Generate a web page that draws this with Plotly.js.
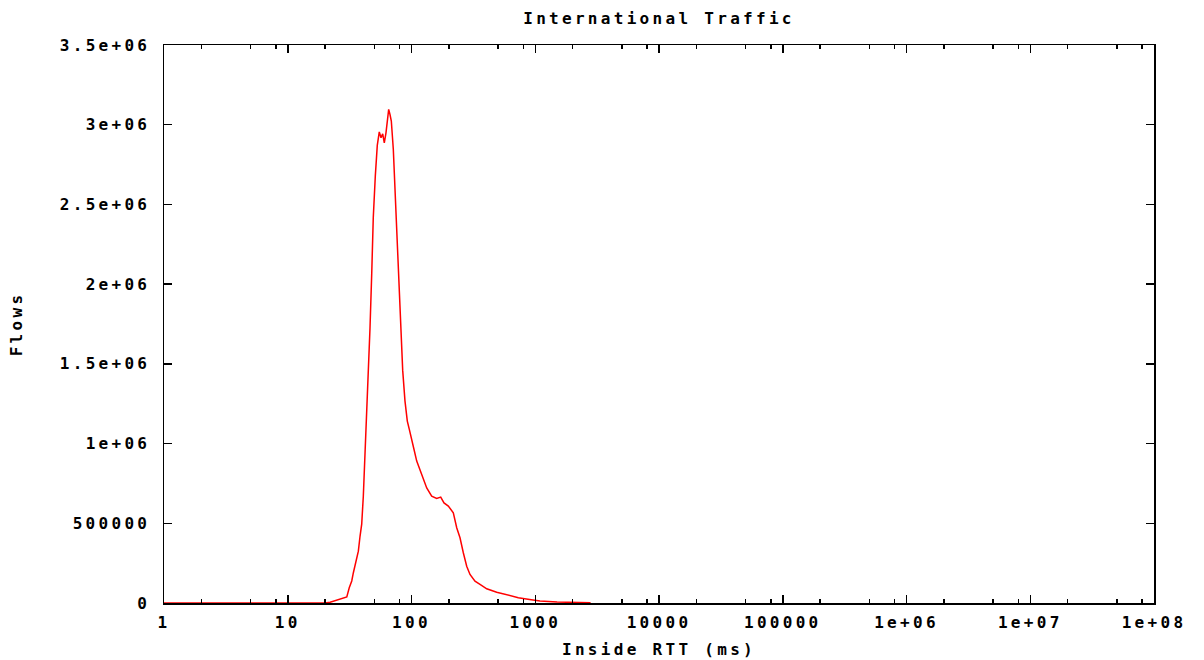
<!DOCTYPE html>
<html>
<head>
<meta charset="utf-8">
<script src="https://cdn.plot.ly/plotly-3.0.1.min.js"></script>
<style>
  html, body { margin: 0; padding: 0; background: #fff; }
  #chart { width: 1204px; height: 660px; }
  .main-svg text { letter-spacing: 3.3px; }
</style>
</head>
<body>
<div id="chart"></div>
<script>
// Inside RTT (ms) values
const rtt = [1, 2, 5, 10, 15, 20, 22, 26.4, 30, 31.4, 32.9, 33.9, 35.6, 37.2, 38.4, 39.6, 40.8, 42.1, 43.5,
  44.8, 46.2, 47.7, 49.1, 51.0, 52.9, 54.9, 56.7, 58.5, 60.3, 62.2, 63.7, 65.4, 67.0, 68.7, 71.3,
  74.0, 76.8, 79.7, 82.3, 84.9, 88.6, 92.5, 96.0, 100.4, 104.8, 110.2, 117.1, 124.6, 132.7, 145.6,
  159.8, 172.2, 183.1, 198.4, 217.7, 231.9, 246.6, 262.2, 279.3, 297.0, 326.0, 357.7, 405.3,
  488.2, 587.9, 729.5, 900, 1092, 1500, 2000, 2800];
// Flows per RTT bin
const flows = [0, 0, 0, 0, 0, 0, 5000, 25000, 38000, 95000, 138000, 190000, 262000, 325000, 420000,
  495000, 670000, 920000, 1160000, 1423000, 1724000, 2065000, 2416000, 2678000, 2870000, 2955000,
  2918000, 2943000, 2886000, 2949000, 3039000, 3096000, 3064000, 3023000, 2845000, 2552000,
  2245000, 1910000, 1653000, 1459000, 1266000, 1141000, 1089000, 1015000, 963000, 890000, 838000,
  775000, 722000, 670000, 656000, 664000, 628000, 608000, 566000, 472000, 409000, 315000, 231000,
  179000, 137000, 117000, 89000, 68000, 50000, 33000, 22000, 13000, 6000, 3000, 1500];

const xTickVals = [1, 10, 100, 1000, 10000, 100000, 1e6, 1e7, 1e8];
const xTickText = ["1", "10", "100", "1000", "10000", "100000", "1e+06", "1e+07", "1e+08"];
const yTickVals = [0, 500000, 1000000, 1500000, 2000000, 2500000, 3000000, 3500000];
const yTickText = ["0", "500000", "1e+06", "1.5e+06", "2e+06", "2.5e+06", "3e+06", "3.5e+06"];
const minorMult = [2, 5, 8];

const minorVals = [];
for (let d = 0; d < 8; d++) {
  for (const m of minorMult) minorVals.push(m * Math.pow(10, d));
}

const FONT = {family: '"DejaVu Sans Mono", "Liberation Mono", monospace', size: 16, color: '#000', weight: 'bold'};

const trace = {
  x: rtt, y: flows, type: 'scatter', mode: 'lines',
  line: {color: '#ff0000', width: 1.5},
  hoverinfo: 'skip', showlegend: false
};

const layout = {
  width: 1204, height: 660,
  margin: {l: 164, r: 50, t: 45, b: 57},
  paper_bgcolor: '#ffffff', plot_bgcolor: '#ffffff',
  font: FONT,
  title: {text: 'International Traffic', font: FONT, x: 0.5, xref: 'paper', y: 1 - 18 / 660, yref: 'container', yanchor: 'middle', xanchor: 'center'},
  xaxis: {
    type: 'log', range: [0, 8], autorange: false,
    tickmode: 'array', tickvals: xTickVals, ticktext: xTickText,
    ticks: 'inside', ticklen: 8, tickwidth: 1.5, tickcolor: '#000',
    minor: {tickmode: 'array', tickvals: minorVals, ticks: 'inside', ticklen: 4, tickwidth: 1.5, tickcolor: '#000', showgrid: false},
    showline: true, linecolor: '#000', linewidth: 1.5, mirror: 'ticks',
    showgrid: false, zeroline: false,
    tickfont: FONT, ticklabelstandoff: 4,
    title: {text: 'Inside RTT (ms)', font: FONT, standoff: 13},
    automargin: false
  },
  yaxis: {
    range: [0, 3500000], autorange: false,
    tickmode: 'array', tickvals: yTickVals, ticktext: yTickText,
    ticks: 'inside', ticklen: 8, tickwidth: 1.5, tickcolor: '#000',
    showline: true, linecolor: '#000', linewidth: 1.5, mirror: 'ticks',
    showgrid: false, zeroline: false,
    tickfont: FONT, ticklabelstandoff: 9,
    title: {text: 'Flows', font: FONT, standoff: 56},
    automargin: false
  }
};

Plotly.newPlot('chart', [trace], layout, {staticPlot: true, displayModeBar: false});
</script>
</body>
</html>
